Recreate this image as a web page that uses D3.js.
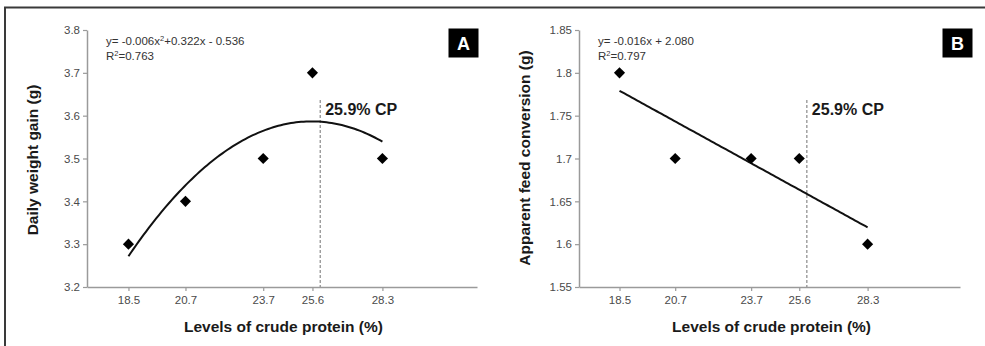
<!DOCTYPE html>
<html>
<head>
<meta charset="utf-8">
<script src="https://cdn.jsdelivr.net/npm/d3@7/dist/d3.min.js"></script>
<style>
  html, body { margin: 0; padding: 0; background: #fff; }
  svg { display: block; font-family: 'Liberation Sans', Arial, sans-serif; }
</style>
</head>
<body>
<div id="chart"></div>
<script>
// ─── Data ─────────────────────────────────────────────────────────────────────
const proteinLevels = [18.5, 20.7, 23.7, 25.6, 28.3]
const weightGain = [3.3, 3.4, 3.5, 3.7, 3.5]
const feedConversion = [1.8, 1.7, 1.7, 1.7, 1.6]
const weightTicks = [3.2, 3.3, 3.4, 3.5, 3.6, 3.7, 3.8]
const feedTicks = [1.55, 1.6, 1.65, 1.7, 1.75, 1.8, 1.85]
const optimumCP = 25.9
const eqA = ['y= -0.006x', '2', '+0.322x - 0.536']
const eqB = ['y= -0.016x + 2.080']
const r2A = '0.763'
const r2B = '0.797'

const W = 985, H = 346

const svg = d3.select('#chart').append('svg')
  .attr('width', W).attr('height', H)

// outer frame (top + left edges only, the rest is cropped)
svg.append('path')
  .attr('d', `M5,${H} L5,7.5 L${W},7.5`)
  .attr('fill', 'none').attr('stroke', '#3a3a3a').attr('stroke-width', 2)

// least squares polynomial fit
function polyFit(xs, ys, deg) {
  const n = deg + 1
  const A = Array.from({ length: n }, () => new Array(n + 1).fill(0))
  xs.forEach((x, k) => {
    for (let i = 0; i < n; i++) {
      for (let j = 0; j < n; j++) A[i][j] += Math.pow(x, i + j)
      A[i][n] += ys[k] * Math.pow(x, i)
    }
  })
  for (let i = 0; i < n; i++) {
    for (let r = i + 1; r < n; r++) {
      const f = A[r][i] / A[i][i]
      for (let c = i; c <= n; c++) A[r][c] -= f * A[i][c]
    }
  }
  const coef = new Array(n).fill(0)
  for (let i = n - 1; i >= 0; i--) {
    let s = A[i][n]
    for (let j = i + 1; j < n; j++) s -= A[i][j] * coef[j]
    coef[i] = s / A[i][i]
  }
  return x => coef.reduce((acc, c, i) => acc + c * Math.pow(x, i), 0)
}

// ─── Panel ────────────────────────────────────────────────────────────────────
function drawPanel(o) {
  const x = d3.scaleLinear().domain([16.9, 31.95]).range([o.left, o.right])
  const y = d3.scaleLinear().domain(d3.extent(o.ticks)).range([287, 30])
  const g = svg.append('g')

  // axes
  const yAxis = g.append('g')
    .attr('transform', `translate(${o.left},0)`)
    .call(d3.axisLeft(y).tickValues(o.ticks).tickSize(4).tickSizeOuter(0).tickPadding(3)
      .tickFormat(d3.format(o.fmt)))
  const xAxis = g.append('g')
    .attr('transform', `translate(0,287)`)
    .call(d3.axisBottom(x).tickValues(proteinLevels).tickSize(4).tickSizeOuter(0).tickPadding(5)
      .tickFormat(d3.format('.1f')))
  ;[yAxis, xAxis].forEach(a => {
    a.select('.domain').attr('stroke', '#9a9a9a').attr('stroke-width', 1.5)
    a.selectAll('.tick line').attr('stroke', '#9a9a9a').attr('stroke-width', 1.2)
    a.selectAll('.tick text').attr('fill', '#4a4a4a').attr('font-size', 11.5)
      .attr('font-family', "'Liberation Sans', Arial, sans-serif")
  })

  // optimum line
  g.append('line')
    .attr('x1', x(optimumCP)).attr('x2', x(optimumCP))
    .attr('y1', 100).attr('y2', 287)
    .attr('stroke', '#8a8a8a').attr('stroke-width', 1.2)
    .attr('stroke-dasharray', '3,2')
  g.append('text')
    .attr('x', x(optimumCP) + 5).attr('y', 115)
    .attr('font-size', 16).attr('font-weight', 'bold').attr('fill', '#1a1a1a')
    .text(`${optimumCP}% CP`)

  // trend
  const fit = polyFit(proteinLevels, o.values, o.degree)
  const xs = d3.range(0, 101).map(i => 18.5 + (28.3 - 18.5) * i / 100)
  g.append('path')
    .datum(xs)
    .attr('d', d3.line().x(d => x(d)).y(d => y(fit(d))))
    .attr('fill', 'none').attr('stroke', '#111').attr('stroke-width', 2)

  // points
  g.selectAll('.pt')
    .data(proteinLevels.map((p, i) => [p, o.values[i]]))
    .join('path')
    .attr('d', d3.symbol(d3.symbolSquare, 62)())
    .attr('transform', d => `translate(${x(d[0])},${y(d[1])}) rotate(45)`)
    .attr('fill', '#000')

  // equation
  const eq = g.append('text')
    .attr('x', o.left + 19).attr('y', 45)
    .attr('font-size', 11.5).attr('fill', '#333')
  o.eq.forEach((s, i) => {
    const t = eq.append('tspan').text(s)
    if (i === 1) t.attr('font-size', 7.5).attr('dy', -4)
    if (i === 2) t.attr('dy', 4)
  })
  const r2 = g.append('text')
    .attr('x', o.left + 19).attr('y', 60)
    .attr('font-size', 11.5).attr('fill', '#333')
  r2.append('tspan').text('R')
  r2.append('tspan').text('2').attr('font-size', 7.5).attr('dy', -4)
  r2.append('tspan').text(`=${o.r2}`).attr('dy', 4)

  // panel letter
  g.append('rect')
    .attr('x', o.boxX).attr('y', 28.5).attr('width', 30).attr('height', 29)
    .attr('fill', '#000')
  g.append('text')
    .attr('x', o.boxX + 15).attr('y', 50)
    .attr('text-anchor', 'middle').attr('font-size', 18).attr('font-weight', 'bold')
    .attr('fill', '#fff').text(o.letter)

  // axis titles
  g.append('text')
    .attr('transform', `translate(${o.left - 49},${o.yMid}) rotate(-90)`)
    .attr('text-anchor', 'middle').attr('font-size', 15.5).attr('font-weight', 'bold')
    .attr('fill', '#1a1a1a').text(o.yTitle)
  g.append('text')
    .attr('x', (x(18.5) + x(28.3)) / 2 + 28).attr('y', 332)
    .attr('text-anchor', 'middle').attr('font-size', 15.5).attr('font-weight', 'bold')
    .attr('fill', '#1a1a1a').text('Levels of crude protein (%)')
}

drawPanel({
  left: 87, right: 477, ticks: weightTicks, fmt: '.1f', values: weightGain, degree: 2,
  eq: eqA, r2: r2A, boxX: 448.5, letter: 'A', yTitle: 'Daily weight gain (g)', yMid: 160
})
drawPanel({
  left: 579, right: 960, ticks: feedTicks, fmt: '', values: feedConversion, degree: 1,
  eq: eqB, r2: r2B, boxX: 942.5, letter: 'B', yTitle: 'Apparent feed conversion (g)', yMid: 158
})
</script>
</body>
</html>
